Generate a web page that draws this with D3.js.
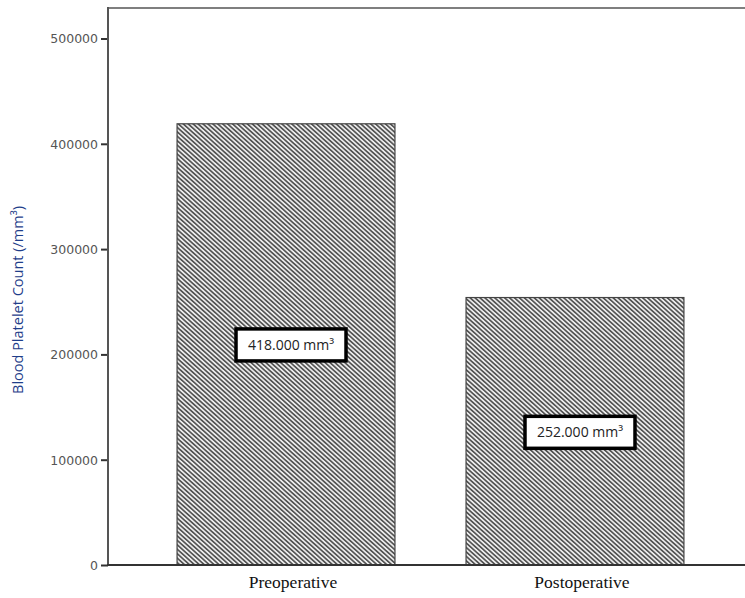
<!DOCTYPE html>
<html>
<head>
<meta charset="utf-8">
<script src="https://cdn.jsdelivr.net/npm/d3@7"></script>
<style>
  html, body { margin: 0; background: #fff; overflow: hidden; }
  svg { display: block; }
</style>
</head>
<body>
<svg width="745" height="598"></svg>
<script>
// **** data ****
var categories = ["Preoperative", "Postoperative"];
var barValues = [419000, 254000];
var boxLabels = ["418.000 mm\u00b3", "252.000 mm\u00b3"];
var boxValues = [418000, 252000];
var yTicks = [0, 100000, 200000, 300000, 400000, 500000];

var svg = d3.select('svg');

// **** scales ****
var xScale = d3.scaleBand()
    .domain(categories).range([108, 753])
    .paddingInner(0.246).paddingOuter(0.239);

var yScale = d3.scaleLinear()
    .domain([0, 500000]).range([565, 38.5]);

// hatch pattern for the bars
var defs = svg.append('defs');
var pat = defs.append('pattern')
    .attr('id', 'hatch')
    .attr('patternUnits', 'userSpaceOnUse')
    .attr('width', 3.3).attr('height', 3.3)
    .attr('patternTransform', 'rotate(-48)');
pat.append('rect').attr('width', 3.3).attr('height', 3.3).attr('fill', '#f0f0f0');
pat.append('rect').attr('width', 1.7).attr('height', 3.3).attr('fill', '#555');

// bars
svg.selectAll('rect.bar')
    .data(categories)
    .enter().append('rect')
    .attr('class', 'bar')
    .attr('x', function (d) { return xScale(d); })
    .attr('width', xScale.bandwidth())
    .attr('y', function (d, i) { return yScale(barValues[i]); })
    .attr('height', function (d, i) { return yScale(0) - yScale(barValues[i]); })
    .attr('fill', 'url(#hatch)')
    .attr('stroke', '#444')
    .attr('stroke-width', 1.2);

// **** axes ****
var yAxis = svg.append('g').attr('class', 'y axis')
    .attr('transform', 'translate(108,0)')
    .call(d3.axisLeft(yScale).tickValues(yTicks).tickSize(7).tickSizeOuter(0)
        .tickFormat(function (d) { return d; }));
yAxis.select('.domain').remove();
yAxis.selectAll('line').attr('stroke', '#333').attr('stroke-width', 2);
yAxis.selectAll('text')
    .attr('x', -10).attr('dy', '0.35em')
    .attr('fill', '#555')
    .style('font-family', 'DejaVu Sans, sans-serif')
    .style('font-size', '12.5px');

var xAxis = svg.append('g').attr('class', 'x axis')
    .attr('transform', 'translate(0,565)')
    .call(d3.axisBottom(xScale).tickSize(0));
xAxis.select('.domain').remove();
xAxis.selectAll('text')
    .attr('y', 11).attr('dy', '0.71em')
    .attr('dx', 7)
    .attr('fill', '#111')
    .style('font-family', 'Liberation Serif, serif')
    .style('font-size', '17.5px');

// keep the right edge clean (frame is open on the right)
svg.append('rect')
    .attr('x', 736).attr('y', 0)
    .attr('width', 9).attr('height', 598)
    .attr('fill', '#fff');

// plot frame: top, left and bottom lines
svg.append('line')
    .attr('x1', 108).attr('x2', 745)
    .attr('y1', 8).attr('y2', 8)
    .attr('stroke', '#555').attr('stroke-width', 1.5);

svg.append('line')
    .attr('x1', 108).attr('x2', 108)
    .attr('y1', 7).attr('y2', 566)
    .attr('stroke', '#555').attr('stroke-width', 2);

svg.append('line')
    .attr('x1', 107).attr('x2', 745)
    .attr('y1', 565).attr('y2', 565)
    .attr('stroke', '#333').attr('stroke-width', 2);

// y axis label
svg.append('text')
    .attr('class', 'y axis label')
    .attr('transform', 'translate(23, 300) rotate(-90)')
    .attr('text-anchor', 'middle')
    .attr('fill', '#1f3e8a')
    .style('font-family', 'Open Sans, sans-serif')
    .style('font-size', '14.5px')
    .text('Blood Platelet Count (/mm\u00b3)');

// value boxes at half the bar height
var boxes = svg.selectAll('g.box')
    .data(categories)
    .enter().append('g')
    .attr('class', 'box')
    .attr('transform', function (d, i) {
        return 'translate(' + (xScale(d) + xScale.bandwidth() / 2 + 5) + ',' + yScale(boxValues[i] / 2) + ')';
    });

boxes.append('rect')
    .attr('x', -55).attr('y', -16)
    .attr('width', 110).attr('height', 32)
    .attr('fill', '#fff')
    .attr('stroke', '#000').attr('stroke-width', 3.5);

boxes.append('text')
    .attr('text-anchor', 'middle')
    .attr('dy', '0.35em')
    .attr('fill', '#222')
    .style('font-family', 'Open Sans, sans-serif')
    .style('font-size', '14px')
    .text(function (d, i) { return boxLabels[i]; });
</script>
</body>
</html>
